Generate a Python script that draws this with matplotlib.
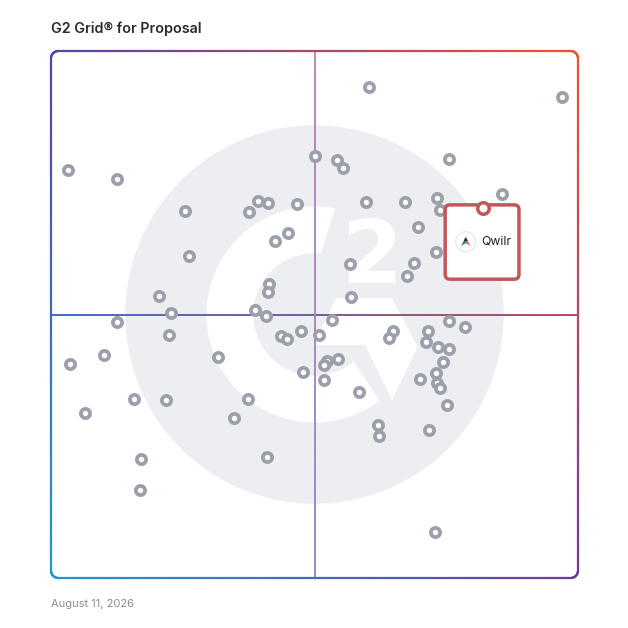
import numpy as np
import matplotlib
matplotlib.use("Agg")
import matplotlib.pyplot as plt
from matplotlib.collections import LineCollection
from matplotlib.patches import Circle, Polygon, FancyBboxPatch

# ---------------- data ----------------
title = "G2 Grid® for Proposal"
date_label = "August 11, 2026"
highlight_name = "Qwilr"
highlight_x = 82.0
highlight_y = 70.2

satisfaction = [
    3.2, 12.5, 25.4, 37.6, 39.3, 41.2, 46.7, 50.1, 26.2, 45.0,
    42.5, 41.4, 41.2, 20.5, 22.8, 38.7, 40.8, 12.5, 60.3, 97.0,
    54.3, 55.4, 75.5, 85.6, 59.8, 67.2, 73.2, 73.8, 69.6, 73.1,
    56.7, 68.9, 67.6, 56.9, 22.4, 10.1, 3.6, 31.7, 43.6, 44.8,
    47.4, 47.8, 15.7, 21.8, 37.4, 6.5, 34.7, 17.1, 41.0, 16.9,
    50.9, 53.3, 64.9, 64.1, 71.5, 75.5, 78.6, 71.2, 73.4, 75.5,
    74.4, 54.5, 52.4, 51.8, 51.8, 58.4, 70.0, 73.1, 73.2, 73.8,
    75.1, 62.0, 62.2, 71.7, 72.9,
]
market_presence = [
    77.4, 75.7, 69.6, 69.4, 71.6, 71.2, 71.0, 80.1, 61.1, 65.5,
    63.9, 55.8, 54.3, 53.5, 50.2, 50.9, 49.7, 48.6, 93.2, 91.3,
    79.3, 77.8, 79.5, 72.9, 71.3, 71.3, 72.1, 69.8, 66.6, 61.9,
    59.6, 59.8, 57.3, 53.3, 46.1, 42.3, 40.6, 41.9, 45.9, 45.4,
    46.9, 39.1, 34.0, 33.8, 34.0, 31.3, 30.4, 22.6, 23.0, 16.7,
    46.1, 49.0, 46.9, 45.5, 46.9, 48.8, 47.6, 44.8, 43.8, 43.5,
    41.0, 41.6, 41.2, 40.4, 37.6, 35.3, 37.8, 38.9, 37.0, 36.1,
    32.8, 29.0, 26.9, 28.1, 8.7,
]

# ---------------- figure ----------------
W = H = 628
fig = plt.figure(figsize=(W / 100, H / 100), dpi=100)
fig.patch.set_facecolor("white")
L, T, R, B = 51, 51, 578, 578
ax = fig.add_axes([L / W, 1 - B / H, (R - L) / W, (B - T) / H])
ax.set_xlim(0, 100)
ax.set_ylim(0, 100)
ax.axis("off")

# corner colours of the gradient
TL = np.array([91, 63, 176]) / 255
TR = np.array([240, 85, 43]) / 255
BL = np.array([33, 152, 213]) / 255
BR = np.array([112, 58, 160]) / 255


def grad(u, v):
    c = TL * (1 - u) * v + TR * u * v + BL * (1 - u) * (1 - v) + BR * u * (1 - v)
    return np.clip(c, 0, 1)


def seg_collection(pts, colors, lw, z):
    segs = np.stack([pts[:-1], pts[1:]], axis=1)
    lc = LineCollection(segs, colors=colors, linewidths=lw, zorder=z,
                        capstyle="round", clip_on=False)
    ax.add_collection(lc)


# ---------------- watermark ----------------
cx, cy = 50.0, 50.0
ax.add_patch(Circle((cx, cy), 35.9, facecolor="#ECEEF1", edgecolor="none", zorder=0))
r_out, r_in = 20.5, 11.6
a_out = np.radians(np.linspace(79, 307, 200))
a_in = np.radians(np.linspace(310, 84, 200))
ring = np.vstack([
    np.column_stack([cx + r_out * np.cos(a_out), cy + r_out * np.sin(a_out)]),
    np.column_stack([cx + r_in * np.cos(a_in), cy + r_in * np.sin(a_in)]),
])
ax.add_patch(Polygon(ring, closed=True, facecolor="white", edgecolor="none", zorder=0.5))
chev = [(54.1, 53.1), (64.7, 53.1), (69.6, 43.8), (64.7, 33.8), (59.6, 44.2), (49.7, 44.2)]
ax.add_patch(Polygon(chev, closed=True, facecolor="white", edgecolor="none", zorder=0.5))
ax.text(60.9, 55.9, "2", color="white", fontsize=63, fontweight="bold",
        family="DejaVu Sans", ha="center", va="baseline", zorder=0.6)

# ---------------- quadrant lines ----------------
n = 300
t = np.linspace(0, 1, n)
hpts = np.column_stack([t * 100, np.full(n, 50.0)])
hcols = [grad(u, 0.5) for u in (t[:-1] + t[1:]) / 2]
seg_collection(hpts, hcols, 1.3, 1)
vtop = np.array([185, 136, 180]) / 255
vbot = np.array([140, 140, 204]) / 255
vpts = np.column_stack([np.full(n, 50.0), t * 100])
vcols = [vbot * (1 - v) + vtop * v for v in (t[:-1] + t[1:]) / 2]
seg_collection(vpts, vcols, 1.3, 1)

# ---------------- border ----------------
def rounded_rect(x0, y0, x1, y1, r, m=150):
    pts = []
    def line(p, q):
        s = np.linspace(0, 1, m)
        pts.extend(list(zip(p[0] + (q[0] - p[0]) * s, p[1] + (q[1] - p[1]) * s)))
    def arc(c, a0, a1):
        a = np.radians(np.linspace(a0, a1, 20))
        pts.extend(list(zip(c[0] + r * np.cos(a), c[1] + r * np.sin(a))))
    line((x0 + r, y1), (x1 - r, y1))
    arc((x1 - r, y1 - r), 90, 0)
    line((x1, y1 - r), (x1, y0 + r))
    arc((x1 - r, y0 + r), 0, -90)
    line((x1 - r, y0), (x0 + r, y0))
    arc((x0 + r, y0 + r), -90, -180)
    line((x0, y0 + r), (x0, y1 - r))
    arc((x0 + r, y1 - r), 180, 90)
    pts.append(pts[0])
    return np.array(pts)


bpts = rounded_rect(0, 0, 100, 100, 1.4)
mids = (bpts[:-1] + bpts[1:]) / 2
bcols = [grad(np.clip(p[0] / 100, 0, 1), np.clip(p[1] / 100, 0, 1)) for p in mids]
seg_collection(bpts, bcols, 1.6, 2)

# ---------------- points ----------------
ax.scatter(satisfaction, market_presence, s=44, facecolor="white",
           edgecolor="#9BA0AB", linewidths=2.7, zorder=3)

# ---------------- highlighted product ----------------
box_w, box_h = 14.0, 14.1
bx0 = highlight_x - 7.2
by1 = highlight_y + 0.6
ax.add_patch(FancyBboxPatch((bx0, by1 - box_h), box_w, box_h,
                            boxstyle="round,pad=0,rounding_size=0.9",
                            facecolor="white", edgecolor="#C0575A",
                            linewidth=2.5, zorder=4))
ax.scatter([highlight_x], [highlight_y], s=69, facecolor="white",
           edgecolor="#C0575A", linewidths=2.5, zorder=5)
lx, ly = bx0 + 3.9, by1 - 7.0
ax.add_patch(Circle((lx, ly), 1.9, facecolor="white", edgecolor="#E3E6EA",
                    linewidth=0.8, zorder=5))
ax.add_patch(Polygon([(lx - 0.85, ly - 0.8), (lx - 0.05, ly + 0.9), (lx + 0.05, ly - 0.25)],
                     closed=True, facecolor="#13907F", edgecolor="none", zorder=6))
ax.add_patch(Polygon([(lx + 0.05, ly + 0.9), (lx + 0.85, ly - 0.8), (lx + 0.05, ly - 0.25)],
                     closed=True, facecolor="#EE4F5D", edgecolor="none", zorder=6))
ax.add_patch(Polygon([(lx - 0.35, ly + 0.15), (lx, ly + 0.9), (lx + 0.35, ly + 0.15)],
                     closed=True, facecolor="#1E2A3A", edgecolor="none", zorder=6.5))
ax.text(lx + 2.9, ly, highlight_name, fontsize=8.8, family="Inter",
        color="#1D2130", ha="left", va="center", zorder=6)

# ---------------- texts ----------------
fig.text(51 / W, 1 - 29 / H, title, fontsize=10.3, fontweight="semibold",
         family="Inter", color="#2A2A2A", ha="left", va="center")
fig.text(51 / W, 1 - 604 / H, date_label, fontsize=8, family="Inter",
         color="#8C8C8C", ha="left", va="center")

fig.savefig("out.png", dpi=100, facecolor="white")
